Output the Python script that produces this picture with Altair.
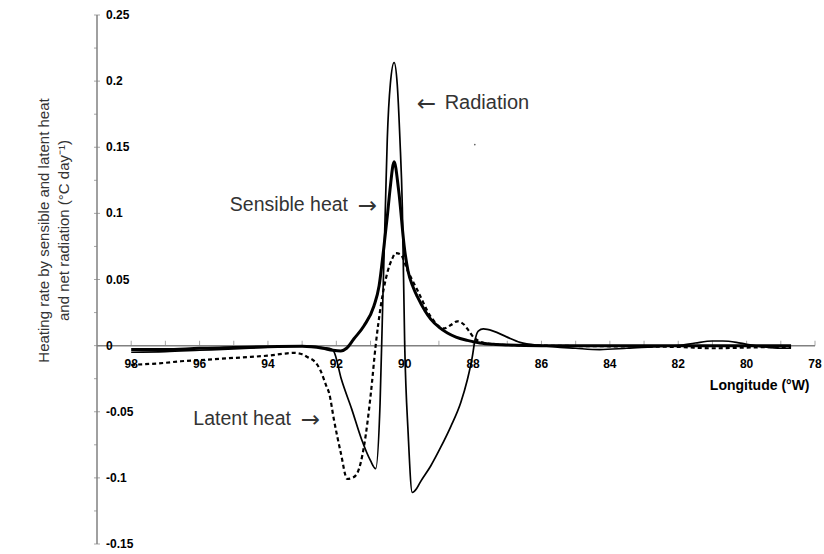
import altair as alt
import pandas as pd

# ---------------- data ----------------
rad_lon = [98, 97, 96, 95, 94, 93, 92.6, 92.4, 92.2, 92.08, 91.85, 91.55, 91.26, 91.0, 90.85,
           90.72, 90.64, 90.56, 90.51, 90.42, 90.31, 90.22, 90.14, 90.07, 90.0, 89.9, 89.78,
           89.65, 89.54, 89.24, 88.95, 88.65, 88.36, 88.17, 88.02, 87.96, 87.85, 87.7, 87.41,
           87.02, 86.63, 86.0, 85.0, 84.3, 83.5, 82.5, 82.0, 81.5, 81.0, 80.7, 80.3, 80.0,
           79.5, 79.0, 78.7]
rad_val = [-0.005, -0.0045, -0.0035, -0.0025, -0.0012, -0.0003, -0.0006, -0.0015, -0.002, -0.004, -0.0257, -0.048, -0.071, -0.087, -0.093,
           -0.043, 0.035, 0.11, 0.156, 0.198, 0.214, 0.198, 0.156, 0.105, 0.0, -0.066, -0.111,
           -0.108, -0.103, -0.091, -0.077, -0.061, -0.043, -0.026, -0.008, 0.002, 0.011, 0.0126, 0.011,
           0.0066, 0.0025, 0.0, -0.002, -0.003, -0.002, -0.0005, 0.0, 0.002, 0.0035, 0.0035, 0.0025, 0.001,
           -0.001, -0.002, -0.002]

sen_lon = [98, 97, 96, 95, 94, 93, 92.4, 92.1, 91.87, 91.7, 91.49, 91.19, 90.9, 90.75, 90.62,
           90.5, 90.43, 90.31, 90.18, 90.0, 89.9, 89.75, 89.63, 89.4, 89.24, 89.0, 88.75, 88.5,
           88.17, 87.8, 87.4, 87.0, 86.0, 84.0, 82.0, 80.0, 78.7]
sen_val = [-0.003, -0.003, -0.002, -0.0015, -0.0008, -0.0005, -0.002, -0.0035, -0.004, -0.002, 0.005, 0.015, 0.03, 0.045, 0.072,
           0.1, 0.118, 0.139, 0.118, 0.072, 0.056, 0.044, 0.037, 0.026, 0.02, 0.014, 0.0096, 0.0065,
           0.004, 0.002, 0.001, 0.0005, 0.0, 0.0, 0.0, 0.0, 0.0]

lat_lon = [98, 97, 96.55, 96, 95.38, 94.5, 94.01, 93.5, 93.24, 93.0, 92.85, 92.6, 92.46, 92.3,
           92.21, 92.07, 91.87, 91.68, 91.53, 91.38, 91.19, 90.99, 90.85, 90.7, 90.51, 90.36,
           90.26, 90.12, 89.92, 89.63, 89.24, 88.85, 88.65, 88.46, 88.27, 88.12, 87.97, 87.58,
           87.0, 86.0, 84.0, 82.0, 81.0, 80.0, 79.0, 78.7]
lat_val = [-0.0145, -0.013, -0.0118, -0.011, -0.0099, -0.0085, -0.0076, -0.006, -0.0055, -0.0065, -0.0086, -0.013, -0.019, -0.03,
           -0.036, -0.056, -0.081, -0.1008, -0.1, -0.096, -0.076, -0.036, 0.0, 0.03, 0.055, 0.066,
           0.07, 0.069, 0.057, 0.042, 0.022, 0.013, 0.0156, 0.0184, 0.016, 0.011, 0.0058, 0.0015,
           0.0005, 0.0, -0.0005, -0.001, -0.002, -0.0015, -0.001, -0.001]

x_tick_vals = list(range(78, 99))
x_label_vals = [98, 96, 94, 92, 90, 88, 86, 84, 82, 80, 78]
x_labels = ["98", "96", "94", "92", "90", "88", "86", "84", "82", "80", "78"]
y_major_vals = [0.25, 0.2, 0.15, 0.1, 0.05, 0.0, -0.05, -0.1, -0.15]
y_labels = ["0.25", "0.2", "0.15", "0.1", "0.05", "0", "-0.05", "-0.1", "-0.15"]
y_minor_vals = [0.225, 0.175, 0.125, 0.075, 0.025, -0.025, -0.075, -0.125]

x_min, x_max = 78, 99
y_min, y_max = -0.15, 0.25

# annotations: word, arrow, anchor, side of arrow
ann_word = ["Radiation", "Sensible heat", "Latent heat"]
ann_arrow = ["\u2190", "\u2192", "\u2192"]
ann_lon = [89.65, 90.81, 92.48]
ann_val = [0.1837, 0.1066, -0.0552]
ann_arrow_first = [True, False, False]

x_title = "Longitude (\u00b0W)"
x_title_lon = 78.16
x_title_val = -0.0302

y_title = ["Heating rate by sensible and latent heat", "and net radiation (\u00b0C day\u207b\u00b9)"]

dot_lon = [87.95]
dot_val = [0.152]

# ---------------- build ----------------
FONT = "Liberation Sans"
AX = "#808080"
TXT = "#333333"

X = alt.X("lon:Q", scale=alt.Scale(domain=[x_min, x_max], reverse=True), axis=None)
Y = alt.Y("val:Q", scale=alt.Scale(domain=[y_min, y_max]),
          axis=alt.Axis(title=y_title, labels=False, ticks=False, domain=False, grid=False,
                        titleX=-46, titleY=215, titleAngle=270, titleAlign="center",
                        titleBaseline="bottom", titleFontSize=15, titleFontWeight="normal",
                        titleFont=FONT, titleColor=TXT, titleLineHeight=20))


def series_df(lon, val):
    return pd.DataFrame({"lon": lon, "val": val})


def line_layer(lon, val, width, dash=None):
    kw = dict(color="black", strokeWidth=width, interpolate="monotone")
    if dash:
        kw["strokeDash"] = dash
    return alt.Chart(series_df(lon, val)).mark_line(**kw).encode(
        x=X, y=Y, order=alt.Order("lon:Q", sort="descending"))


def text_layer(lon, val, t, **kw):
    return alt.Chart(pd.DataFrame({"lon": lon, "val": val, "t": t})).mark_text(**kw).encode(
        x=X, y=Y, text="t:N")


# axes drawn from scale values
xaxis_line = alt.Chart(pd.DataFrame({"lon": [x_max], "lon2": [x_min], "val": [0.0]})).mark_rule(
    color=AX, strokeWidth=1.5).encode(x=X, x2="lon2:Q", y=Y)
yaxis_line = alt.Chart(pd.DataFrame({"lon": [x_max], "val": [y_min], "val2": [y_max]})).mark_rule(
    color=AX, strokeWidth=1.5).encode(x=X, y=Y, y2="val2:Q")

x_ticks = alt.Chart(pd.DataFrame({"lon": x_tick_vals, "val": [0.0] * len(x_tick_vals)})).mark_tick(
    orient="vertical", size=5, thickness=1, yOffset=-2.5, color=AX).encode(x=X, y=Y)
x_lab = text_layer(x_label_vals, [0.0] * len(x_label_vals), x_labels,
                   font=FONT, fontSize=12, fontWeight="bold", color="black", dy=18,
                   align="center", baseline="middle")

y_major = alt.Chart(pd.DataFrame({"lon": [x_max] * len(y_major_vals), "val": y_major_vals})).mark_tick(
    orient="horizontal", size=6, thickness=1, color=AX).encode(x=X, y=Y)
y_minor = alt.Chart(pd.DataFrame({"lon": [x_max] * len(y_minor_vals), "val": y_minor_vals})).mark_tick(
    orient="horizontal", size=3, thickness=1, xOffset=-1.5, color=AX).encode(x=X, y=Y)
y_lab = text_layer([x_max] * len(y_major_vals), y_major_vals, y_labels,
                   font=FONT, fontSize=12, fontWeight="bold", color="black", dx=9,
                   align="left", baseline="middle")

ann_layers = []
for w, a, lo, va, first in zip(ann_word, ann_arrow, ann_lon, ann_val, ann_arrow_first):
    if first:
        ann_layers.append(text_layer([lo], [va], [a], font="DejaVu Sans", fontSize=23, color=TXT,
                                     align="left", baseline="middle", dy=1))
        ann_layers.append(text_layer([lo], [va], [w], font=FONT, fontSize=20, color=TXT,
                                     align="left", baseline="middle", dx=28))
    else:
        ann_layers.append(text_layer([lo], [va], [a], font="DejaVu Sans", fontSize=23, color=TXT,
                                     align="right", baseline="middle", dy=1))
        ann_layers.append(text_layer([lo], [va], [w], font=FONT, fontSize=19.5, color=TXT,
                                     align="right", baseline="middle", dx=-29))

xt = text_layer([x_title_lon], [x_title_val], [x_title], font=FONT, fontSize=14, fontWeight="bold",
                color="black", align="right", baseline="middle")

dot = alt.Chart(pd.DataFrame({"lon": dot_lon, "val": dot_val})).mark_point(
    filled=True, size=3, color="#666666", opacity=1).encode(x=X, y=Y)

sen = line_layer(sen_lon, sen_val, 3.0)
lat = line_layer(lat_lon, lat_val, 2.2, dash=[4, 3])
rad = line_layer(rad_lon, rad_val, 1.7)

chart = alt.layer(
    xaxis_line, yaxis_line, x_ticks, y_major, y_minor, x_lab, y_lab,
    lat, sen, rad, *ann_layers, xt, dot
).properties(
    width=718, height=529,
    autosize=alt.AutoSizeParams(type="none"),
    padding={"left": 97, "top": 15, "right": 9, "bottom": 10},
    background="white",
).configure_view(stroke=None)

chart.save("out.html", embed_options={"renderer": "svg", "actions": False})
